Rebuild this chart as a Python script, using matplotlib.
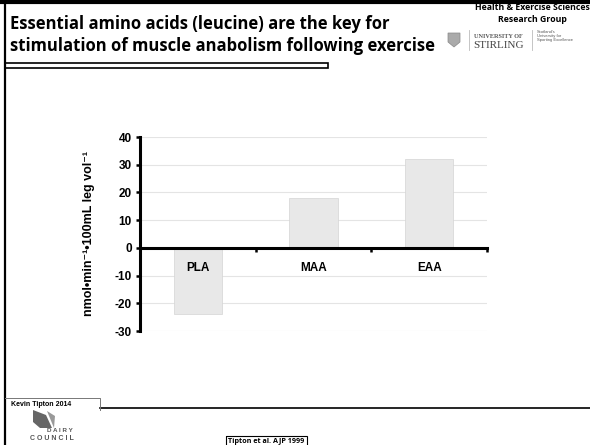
import matplotlib
matplotlib.use('Agg')
import matplotlib.pyplot as plt
from matplotlib.patches import Rectangle, Polygon

groups = ['PLA', 'MAA', 'EAA']
values = [-24, 18, 32]
yticks = [-30, -20, -10, 0, 10, 20, 30, 40]

title_lines = ['Essential amino acids (leucine) are the key for',
               'stimulation of muscle anabolism following exercise']
ylabel = 'nmol•min⁻¹•100mL leg vol⁻¹'

plt.rcParams['font.family'] = ['Liberation Sans', 'DejaVu Sans']

fig = plt.figure(figsize=(5.9, 4.45), dpi=100)

# slide decoration layer in pixel coords
deco = fig.add_axes([0, 0, 1, 1])
deco.set_xlim(0, 590)
deco.set_ylim(445, 0)
deco.axis('off')
deco.plot([0, 590], [1.5, 1.5], color='black', lw=3)
deco.plot([5, 5], [0, 445], color='black', lw=1.6)
deco.add_patch(Rectangle((5, 63), 323, 5, fill=False, ec='black', lw=1.2))
deco.plot([100, 590], [408, 408], color='black', lw=1.2)
deco.plot([5, 100, 100], [398, 398, 410], color='#777777', lw=0.7)
deco.add_patch(Rectangle((226, 436), 81, 12, fill=False, ec='black', lw=0.8))
deco.text(266, 441.5, 'Tipton et al. AJP 1999', fontsize=5.2, fontweight='bold',
          family=['Open Sans', 'DejaVu Sans'], ha='center', va='center')
deco.text(11, 405, 'Kevin Tipton 2014', fontsize=5, fontweight='bold', va='center')

for i, line in enumerate(title_lines):
    deco.text(10, 29 + i * 22, line, fontsize=12, fontweight='bold',
              family=['Open Sans', 'DejaVu Sans'], va='baseline')

deco.text(532, 8, 'Health & Exercise Sciences', fontsize=6.3, fontweight='bold',
          family=['Open Sans', 'DejaVu Sans'], ha='center', va='center')
deco.text(532, 19, 'Research Group', fontsize=6.3, fontweight='bold',
          family=['Open Sans', 'DejaVu Sans'], ha='center', va='center')
deco.add_patch(Polygon([[448, 33], [460, 33], [460, 42], [454, 47], [448, 42]],
                       closed=True, fc='#aaaaaa', ec='#888888', lw=0.5))
deco.plot([469, 469], [30, 50], color='#bbbbbb', lw=0.6)
deco.plot([532, 532], [30, 50], color='#bbbbbb', lw=0.6)
deco.text(474, 36, 'UNIVERSITY OF', fontsize=4.5, family='Liberation Serif',
          fontweight='bold', color='#555555', va='center')
deco.text(473, 45, 'STIRLING', fontsize=8, family='Liberation Serif',
          color='#444444', va='center')
deco.text(537, 36, "Scotland's\nUniversity for\nSporting Excellence", fontsize=3,
          color='#555555', va='center', linespacing=1.1)

# dairy council logo
deco.add_patch(Polygon([[33, 410], [46, 415], [52, 428], [40, 428], [33, 422]],
                       closed=True, fc='#666666', ec='none'))
deco.add_patch(Polygon([[47, 411], [55, 416], [54, 428]], closed=True,
                       fc='#999999', ec='none'))
deco.text(60, 431, 'D A I R Y', fontsize=4.5, fontweight='bold', color='#555555',
          ha='center', va='center')
deco.text(52, 438, 'C O U N C I L', fontsize=5, fontweight='bold', color='#555555',
          ha='center', va='center')

# chart
ax = fig.add_axes([140 / 590, 1 - 331 / 445, 347 / 590, 194 / 445])
x = list(range(len(groups)))
for v in yticks:
    ax.axhline(v, color='#e4e4e4', lw=0.8, zorder=0)
ax.bar(x, values, width=0.415, color='#e8e8e8', edgecolor='#d4d4d4', lw=0.5, zorder=1)
ax.set_xlim(-0.5, 2.5)
ax.set_ylim(-30, 40)
ax.set_yticks(yticks)
ax.set_yticklabels([str(v) for v in yticks], fontsize=8.5, fontweight='bold')

for s in ['top', 'right']:
    ax.spines[s].set_visible(False)
ax.spines['left'].set_linewidth(2.2)
ax.spines['bottom'].set_linewidth(2.2)
ax.spines['bottom'].set_position(('data', 0))
ax.tick_params(axis='y', length=3, width=1.8, pad=3)

ax.set_xticks(x)
ax.set_xticklabels(groups, fontsize=8.5, fontweight='bold')
ax.tick_params(axis='x', which='major', length=0, pad=10)
ax.set_xticks([0.5, 1.5, 2.5], minor=True)
ax.tick_params(axis='x', which='minor', length=3, width=1.8, direction='out')

ax.set_ylabel(ylabel, fontsize=9, fontweight='bold', labelpad=14)

fig.savefig('out.png', dpi=100)
